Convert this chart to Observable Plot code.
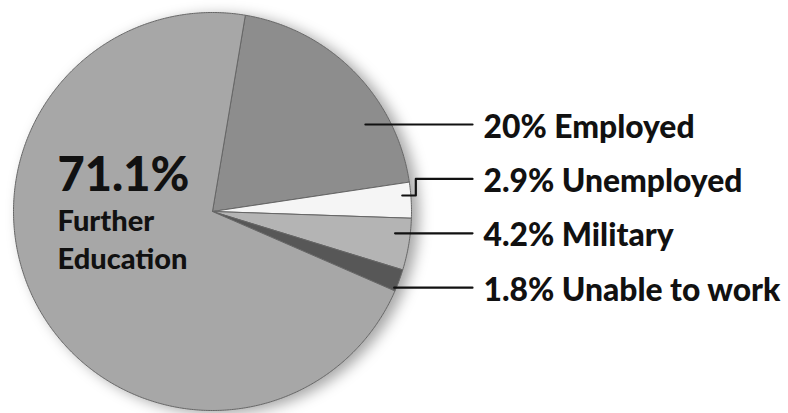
<!DOCTYPE html>
<html><head><meta charset="utf-8">
<script src="https://cdn.jsdelivr.net/npm/d3@7"></script>
<script src="https://cdn.jsdelivr.net/npm/@observablehq/plot@0.6"></script>
<style>body{margin:0;background:#fff;}</style>
</head><body><div id="chart"></div>
<script>
// ---- data ----
const categories = ["Employed", "Unemployed", "Military", "Unable to work", "Further Education"];
const shares = [20, 2.9, 4.2, 1.8, 71.1];
const bigLabelLines = ["Further", "Education"];

// ---- style / layout ----
const sliceColors = ["#8d8d8d", "#f5f5f5", "#b4b4b4", "#575757", "#a7a7a7"];
const W = 788, H = 413, CX = 212, CY = 211, R = 199;
const startDeg = 9.5;
const u = px => (px - CX) / R;
const v = py => (CY - py) / R;
const leaderReach = [0.884, 0.957, 0.924, 0.99];
const doglegDropPx = [0, 16.6, 0, 0];

// ---- pie geometry (through d3.pie) ----
const a0 = startDeg * Math.PI / 180;
const arcs = d3.pie().sort(null).startAngle(a0).endAngle(a0 + 2 * Math.PI)(shares);
const slicePts = [];
arcs.forEach((a, i) => {
  const c = categories[i];
  slicePts.push({c, x: 0, y: 0});
  const n = Math.max(2, Math.ceil((a.endAngle - a.startAngle) / (Math.PI / 360)));
  for (let k = 0; k <= n; k++) {
    const t = a.startAngle + (a.endAngle - a.startAngle) * k / n;
    slicePts.push({c, x: Math.sin(t), y: Math.cos(t)});
  }
  slicePts.push({c, x: 0, y: 0});
});

// ---- labels ----
const rowBaselinePx = i => 137 + i * 54.4;
const rightLabels = categories.slice(0, 4).map((c, i) => ({
  label: `${shares[i]}% ${c}`, x: u(483), y: v(rowBaselinePx(i))
}));
const leaders = [];
categories.slice(0, 4).forEach((c, i) => {
  const ly = rowBaselinePx(i) - 13;
  const vy = v(ly);
  const endX = u(472);
  if (doglegDropPx[i]) {
    const xv = Math.sqrt(1 - vy * vy) + 7 / R;
    const v2 = v(ly + doglegDropPx[i]);
    leaders.push({c, x: endX, y: vy}, {c, x: xv, y: vy}, {c, x: xv, y: v2},
                 {c, x: Math.sqrt(leaderReach[i] ** 2 - v2 * v2), y: v2});
  } else {
    leaders.push({c, x: Math.sqrt(leaderReach[i] ** 2 - vy * vy), y: vy}, {c, x: endX, y: vy});
  }
});
const bigPct = [{t: `${shares[4]}%`, x: u(57), y: v(190)}];
const bigName = [{t: bigLabelLines.join("\n"), x: u(57), y: v(268)}];

const chart = Plot.plot({
  width: W, height: H, margin: 0,
  x: {axis: null, domain: [u(0), u(W)]},
  y: {axis: null, domain: [v(H), v(0)]},
  color: {domain: categories, range: sliceColors},
  style: {fontFamily: "Lato, sans-serif", background: "#fff"},
  marks: [
    Plot.line(slicePts, {x: "x", y: "y", z: "c", fill: "c", stroke: "#666", strokeWidth: 1, strokeLinejoin: "round", curve: "linear"}),
    Plot.line(leaders, {x: "x", y: "y", z: "c", stroke: "#111", strokeWidth: 2.2, curve: "linear"}),
    Plot.text(rightLabels, {x: "x", y: "y", text: "label", textAnchor: "start", lineAnchor: "bottom", fontSize: 31.8, fontWeight: 900, fill: "#111"}),
    Plot.text(bigPct, {x: "x", y: "y", text: "t", textAnchor: "start", lineAnchor: "bottom", fontSize: 47, fontWeight: 900, fill: "#111"}),
    Plot.text(bigName, {x: "x", y: "y", text: "t", textAnchor: "start", lineAnchor: "bottom", fontSize: 29, lineHeight: 38 / 29, fontWeight: 900, fill: "#111"})
  ]
});
const pieG = chart.querySelector('g[aria-label="line"]');
if (pieG) pieG.style.filter = "drop-shadow(7px 3px 7px rgba(0,0,0,0.35))";
document.getElementById("chart").appendChild(chart);
</script>
</body></html>
